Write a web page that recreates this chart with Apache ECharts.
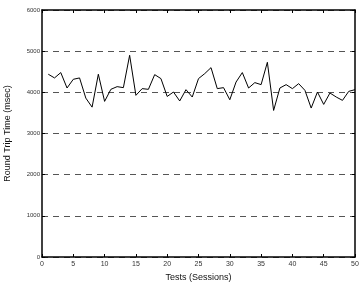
<!DOCTYPE html>
<html>
<head>
<meta charset="utf-8">
<script src="https://cdn.jsdelivr.net/npm/echarts@6/dist/echarts.min.js"></script>
<style>
html, body { margin: 0; padding: 0; background: #fff; }
#chart { width: 362px; height: 286px; }
</style>
</head>
<body>
<div id="chart"></div>
<script>
var sessions = [];
for (var i = 1; i <= 50; i++) sessions.push(i);

var rtt = [
	4440, 4350, 4480, 4105, 4317, 4350, 3860, 3640, 4440, 3780,
	4073, 4138, 4114, 4900, 3927, 4090, 4073, 4430, 4333, 3900,
	4008, 3790, 4065, 3886, 4333, 4455, 4600, 4090, 4114, 3820,
	4250, 4480, 4105, 4236, 4187, 4730, 3560, 4105, 4187, 4090,
	4211, 4049, 3618, 4008, 3707, 3984, 3886, 3805, 4024, 4065
];

var font = 'Liberation Sans';

var chart = echarts.init(document.getElementById('chart'));

var points = sessions.map(function(s, i) { return [s, rtt[i]]; });

var option = {
	animation: false,
	grid: { left: 42, right: 7, top: 10, bottom: 29, outerBoundsMode: 'none', containLabel: false },
	xAxis: [{
		type: 'value', min: 0, max: 50, interval: 5,
		name: 'Tests (Sessions)', nameLocation: 'middle', nameGap: 14,
		nameTextStyle: { fontFamily: font, fontSize: 9, color: '#111' },
		axisLine: { onZero: false, lineStyle: { color: '#000', width: 1.5 } },
		axisTick: { inside: true, length: 3, lineStyle: { color: '#000' } },
		axisLabel: { fontFamily: font, fontSize: 7, color: '#333', margin: 4 },
		splitLine: { show: false }
	}, {
		type: 'value', min: 0, max: 50, interval: 5, position: 'top',
		axisLine: { onZero: false, lineStyle: { color: '#000', width: 1.5 } },
		axisTick: { inside: true, length: 3, lineStyle: { color: '#000' } },
		axisLabel: { show: false },
		splitLine: { show: false }
	}],
	yAxis: [{
		type: 'value', min: 0, max: 6000, interval: 1000,
		name: 'Round Trip Time (msec)', nameLocation: 'middle', nameGap: 30,
		nameTextStyle: { fontFamily: font, fontSize: 9, color: '#111' },
		axisLine: { show: true, onZero: false, lineStyle: { color: '#000', width: 1.5 } },
		axisTick: { show: true, inside: true, length: 3, lineStyle: { color: '#000' } },
		axisLabel: { fontFamily: font, fontSize: 6, color: '#333', margin: 2,
			formatter: function(v) { return String(v); } },
		splitLine: { show: true, lineStyle: { color: '#555', type: [6, 5], width: 1 } }
	}, {
		type: 'value', min: 0, max: 6000, interval: 1000, position: 'right',
		axisLine: { show: true, onZero: false, lineStyle: { color: '#000', width: 1.5 } },
		axisTick: { show: true, inside: true, length: 3, lineStyle: { color: '#000' } },
		axisLabel: { show: false },
		splitLine: { show: false }
	}],
	series: [{
		type: 'line',
		data: points,
		showSymbol: false,
		lineStyle: { color: '#000', width: 1 },
		z: 3
	}]
};

chart.setOption(option);
</script>
</body>
</html>
